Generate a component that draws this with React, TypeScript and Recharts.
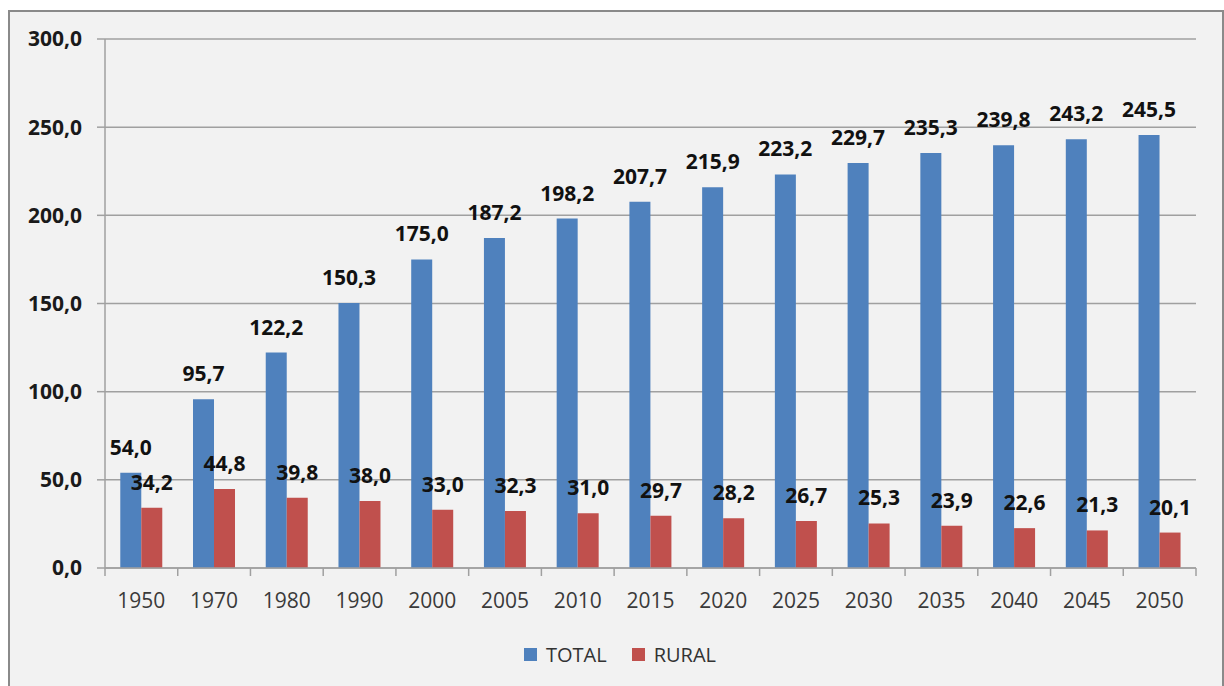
import React from 'react';
import { BarChart, Bar, XAxis, YAxis, CartesianGrid, Legend, LabelList } from 'recharts';

const years = ['1950', '1970', '1980', '1990', '2000', '2005', '2010', '2015', '2020', '2025', '2030', '2035', '2040', '2045', '2050'];
const totalValues = [54.0, 95.7, 122.2, 150.3, 175.0, 187.2, 198.2, 207.7, 215.9, 223.2, 229.7, 235.3, 239.8, 243.2, 245.5];
const ruralValues = [34.2, 44.8, 39.8, 38.0, 33.0, 32.3, 31.0, 29.7, 28.2, 26.7, 25.3, 23.9, 22.6, 21.3, 20.1];
const yTicks = [0, 50, 100, 150, 200, 250, 300];
const seriesOrder = ['TOTAL', 'RURAL'];

const data = years.map((y, i) => ({ year: y, TOTAL: totalValues[i], RURAL: ruralValues[i] }));

const W = 1224;
const H = 686;
const MARGIN = { top: 39, right: 28, left: 0, bottom: 17 };
const Y_AXIS_W = 105;
const X_AXIS_H = 71;
const PLOT_W = W - MARGIN.left - MARGIN.right - Y_AXIS_W;
const BAND = PLOT_W / years.length;

const BLUE = '#4F81BD';
const RED = '#C0504D';
const GRID = '#a0a0a0';
const FONT = '"Open Sans", sans-serif';

const fmt = (v: number) => v.toFixed(1).replace('.', ',');

const XTick = (props: any) => {
  const { x, y, payload, index } = props;
  const left = x - BAND / 2;
  const right = x + BAND / 2;
  return (
    <g>
      <line x1={left} y1={y} x2={left} y2={y + 8} stroke={GRID} strokeWidth={1.5} />
      {index === years.length - 1 && (
        <line x1={right} y1={y} x2={right} y2={y + 8} stroke={GRID} strokeWidth={1.5} />
      )}
      <text x={x} y={y + 40} textAnchor="middle" fontFamily={FONT} fontSize={21} fill="#3a3a3a">
        {payload.value}
      </text>
    </g>
  );
};

const LegendContent = (props: any) => {
  const items = [...(props.payload || [])].sort(
    (a: any, b: any) => seriesOrder.indexOf(a.value) - seriesOrder.indexOf(b.value)
  );
  return (
    <div style={{ display: 'flex', justifyContent: 'center', alignItems: 'center', height: 30, paddingLeft: 44 }}>
      {items.map((item: any, i: number) => (
        <div key={i} style={{ display: 'flex', alignItems: 'center', marginRight: i === 0 ? 25 : 0 }}>
          <div style={{ width: 13, height: 13, background: item.color, marginRight: 9 }} />
          <span style={{ fontFamily: FONT, fontSize: 20, color: '#333' }}>{item.value}</span>
        </div>
      ))}
    </div>
  );
};

export default function App() {
  return (
    <div style={{ position: 'absolute', left: 0, top: 0, width: W, height: H, background: '#fff', overflow: 'hidden' }}>
      <div
        style={{
          position: 'absolute',
          left: 8,
          top: 10,
          width: 1212,
          height: 700,
          background: '#f2f2f2',
          border: '2px solid #8a8a8a',
        }}
      />
      <div style={{ position: 'absolute', left: 0, top: 0 }}>
        <BarChart width={W} height={H} data={data} margin={MARGIN} barGap={0} barCategoryGap="21%">
          <CartesianGrid vertical={false} stroke={GRID} strokeWidth={1.5} />
          <XAxis
            dataKey="year"
            height={X_AXIS_H}
            tickSize={0}
            tickMargin={0}
            interval={0}
            axisLine={{ stroke: GRID, strokeWidth: 1.5 }}
            tick={<XTick />}
          />
          <YAxis
            width={Y_AXIS_W}
            domain={[0, 300]}
            ticks={yTicks}
            tickFormatter={fmt}
            tickSize={8}
            tickMargin={15}
            axisLine={{ stroke: GRID, strokeWidth: 1.5 }}
            tickLine={{ stroke: GRID, strokeWidth: 1.5 }}
            tick={{ fontFamily: FONT, fontSize: 21, fontWeight: 700, fill: '#1a1a1a' }}
          />
          <Legend verticalAlign="bottom" height={30} content={<LegendContent />} />
          <Bar dataKey="TOTAL" fill={BLUE} isAnimationActive={false}>
            <LabelList
              dataKey="TOTAL"
              position="top"
              offset={18}
              formatter={(v: any) => fmt(Number(v))}
              style={{ fontFamily: FONT, fontSize: 21, fontWeight: 700, fill: '#111' }}
            />
          </Bar>
          <Bar dataKey="RURAL" fill={RED} isAnimationActive={false}>
            <LabelList
              dataKey="RURAL"
              position="top"
              offset={18}
              formatter={(v: any) => fmt(Number(v))}
              style={{ fontFamily: FONT, fontSize: 21, fontWeight: 700, fill: '#111' }}
            />
          </Bar>
        </BarChart>
      </div>
    </div>
  );
}
